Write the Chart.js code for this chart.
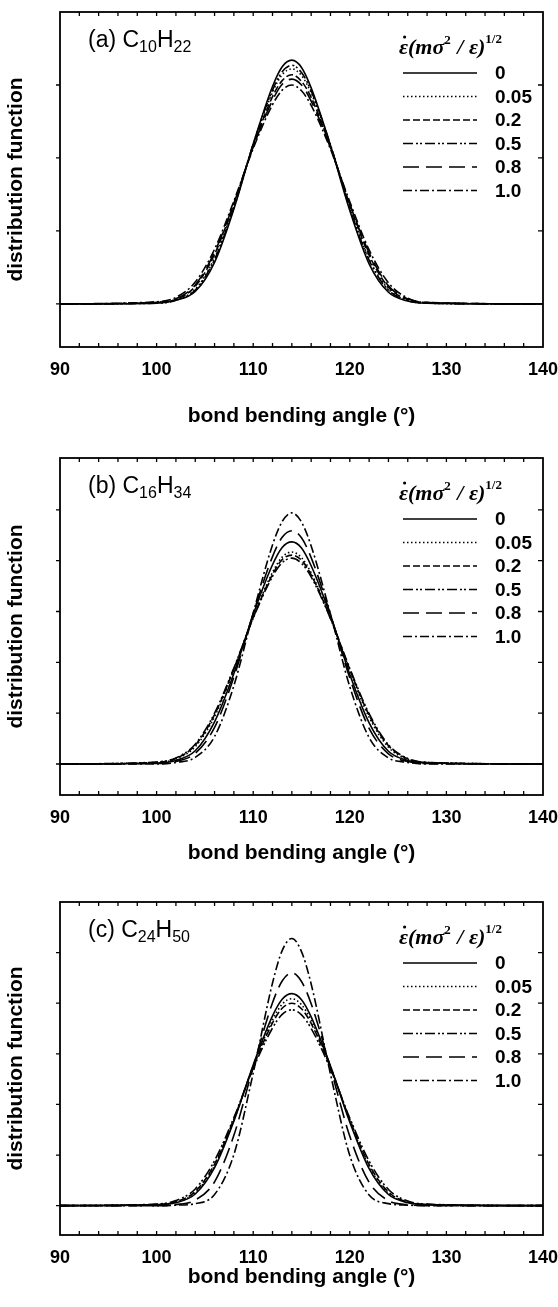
<!DOCTYPE html>
<html>
<head>
<meta charset="utf-8">
<script src="https://cdn.jsdelivr.net/npm/chart.js@4.4.0/dist/chart.umd.min.js"></script>
<style>
  body { margin: 0; background: #fff; width: 558px; height: 1307px; position: relative; overflow: hidden; }
  canvas { position: absolute; left: 0; }
</style>
</head>
<body>
<canvas id="chartA" width="558" height="432" style="top:0"></canvas>
<canvas id="chartB" width="558" height="440" style="top:432px"></canvas>
<canvas id="chartC" width="558" height="435" style="top:872px"></canvas>
<script>
// bond bending angle (deg), shared by all curves
const angles = [90, 100, 102, 104, 106, 108, 110, 112, 113, 114, 115, 116, 118, 120, 122, 124, 126, 128, 140];
const xTickLabels = [90, 100, 110, 120, 130, 140];
const rateLabels = ['0', '0.05', '0.2', '0.5', '0.8', '1.0'];

// (a) C10H22
const a0   = [0, 0.01, 0.05, 0.17, 0.57, 1.30, 2.19, 2.98, 3.25, 3.34, 3.24, 2.96, 2.17, 1.28, 0.55, 0.16, 0.04, 0.01, 0];
const a005 = [0, 0.02, 0.06, 0.20, 0.63, 1.34, 2.18, 2.90, 3.14, 3.22, 3.13, 2.89, 2.17, 1.33, 0.62, 0.20, 0.05, 0.01, 0];
const a02  = [0, 0.02, 0.06, 0.24, 0.68, 1.37, 2.16, 2.84, 3.06, 3.14, 3.05, 2.83, 2.15, 1.36, 0.67, 0.23, 0.06, 0.02, 0];
const a05  = [0, 0.01, 0.05, 0.19, 0.61, 1.32, 2.19, 2.93, 3.18, 3.27, 3.17, 2.92, 2.18, 1.31, 0.60, 0.19, 0.05, 0.01, 0];
const a08  = [0, 0.02, 0.07, 0.26, 0.71, 1.38, 2.15, 2.79, 3.01, 3.08, 3.00, 2.78, 2.14, 1.37, 0.70, 0.25, 0.07, 0.02, 0];
const a10  = [0, 0.03, 0.09, 0.30, 0.75, 1.41, 2.13, 2.73, 2.93, 3.00, 2.92, 2.72, 2.12, 1.40, 0.74, 0.29, 0.08, 0.02, 0];

// (b) C16H34
const b0   = [0, 0.02, 0.07, 0.26, 0.83, 1.78, 2.94, 3.92, 4.26, 4.37, 4.25, 3.90, 2.92, 1.76, 0.81, 0.25, 0.07, 0.02, 0];
const b005 = [0, 0.03, 0.10, 0.34, 0.93, 1.85, 2.89, 3.77, 4.07, 4.17, 4.06, 3.76, 2.88, 1.84, 0.92, 0.33, 0.09, 0.03, 0];
const b02  = [0, 0.03, 0.11, 0.37, 0.97, 1.87, 2.88, 3.73, 4.02, 4.11, 4.01, 3.72, 2.87, 1.86, 0.96, 0.36, 0.10, 0.03, 0];
const b05  = [0, 0.04, 0.12, 0.39, 1.00, 1.89, 2.87, 3.69, 3.96, 4.05, 3.95, 3.68, 2.86, 1.88, 0.99, 0.38, 0.11, 0.03, 0];
const b08  = [0, 0.01, 0.05, 0.21, 0.72, 1.71, 2.96, 4.08, 4.46, 4.59, 4.45, 4.06, 2.94, 1.69, 0.70, 0.20, 0.05, 0.01, 0];
const b10  = [0, 0.00, 0.03, 0.13, 0.54, 1.54, 2.97, 4.31, 4.77, 4.94, 4.76, 4.29, 2.95, 1.52, 0.52, 0.12, 0.03, 0.00, 0];

// (c) C24H50
const c0   = [0, 0.02, 0.06, 0.23, 0.75, 1.67, 2.78, 3.75, 4.08, 4.19, 4.07, 3.73, 2.76, 1.65, 0.73, 0.22, 0.06, 0.02, 0];
const c005 = [0, 0.02, 0.07, 0.25, 0.79, 1.69, 2.76, 3.67, 3.98, 4.09, 3.97, 3.66, 2.75, 1.68, 0.78, 0.24, 0.07, 0.02, 0];
const c02  = [0, 0.02, 0.08, 0.28, 0.82, 1.71, 2.74, 3.61, 3.90, 4.00, 3.89, 3.60, 2.73, 1.70, 0.81, 0.27, 0.07, 0.02, 0];
const c05  = [0, 0.03, 0.10, 0.33, 0.89, 1.74, 2.71, 3.51, 3.78, 3.87, 3.77, 3.50, 2.70, 1.73, 0.88, 0.32, 0.09, 0.03, 0];
const c08  = [0, 0.00, 0.02, 0.11, 0.47, 1.39, 2.74, 4.01, 4.44, 4.60, 4.43, 3.99, 2.72, 1.37, 0.46, 0.10, 0.02, 0.00, 0];
const c10  = [0, 0.00, 0.01, 0.04, 0.22, 1.01, 2.62, 4.40, 5.04, 5.28, 5.02, 4.38, 2.60, 0.99, 0.21, 0.04, 0.01, 0.00, 0];

const dashes = [[], [1.5, 2.5], [7, 3], [10, 3, 2, 2, 2, 3], [16, 7], [9, 3, 2, 3]];

const panels = [
  { id: 'chartA', letter: '(a) C', n1: '10', n2: '22', series: [a0, a005, a02, a05, a08, a10],
    yMin: -0.59, yMax: 4.0, yTicks: [0, 1, 2, 3], top: 12, xHeight: 85, titlePad: 3 },
  { id: 'chartB', letter: '(b) C', n1: '16', n2: '34', series: [b0, b005, b02, b05, b08, b10],
    yMin: -0.61, yMax: 6.02, yTicks: [0, 1, 2, 3, 4, 5], top: 26, xHeight: 77, titlePad: 6 },
  { id: 'chartC', letter: '(c) C', n1: '24', n2: '50', series: [c0, c005, c02, c05, c08, c10],
    yMin: -0.58, yMax: 6.0, yTicks: [0, 1, 2, 3, 4, 5], top: 30, xHeight: 72, titlePad: 17 }
];

// frame, inward ticks, panel label and legend
const framePlugin = {
  id: 'frame',
  afterDatasetsDraw(chart, args, opts) {
    const { ctx, chartArea: a, scales: { x, y } } = chart;
    ctx.save();
    ctx.strokeStyle = '#000';
    ctx.fillStyle = '#000';
    ctx.setLineDash([]);
    ctx.lineWidth = 1.8;
    ctx.strokeRect(a.left, a.top, a.right - a.left, a.bottom - a.top);

    ctx.lineWidth = 1.3;
    ctx.beginPath();
    for (let v = 92; v < 140; v += 2) {
      const px = x.getPixelForValue(v);
      ctx.moveTo(px, a.bottom); ctx.lineTo(px, a.bottom - 4);
      ctx.moveTo(px, a.top); ctx.lineTo(px, a.top + 4);
    }
    opts.yTicks.forEach(v => {
      const py = y.getPixelForValue(v);
      ctx.moveTo(a.left - 4, py); ctx.lineTo(a.left, py);
      ctx.moveTo(a.right, py); ctx.lineTo(a.right - 5, py);
    });
    ctx.stroke();

    // panel label with subscripts
    let lx = a.left + 28;
    const ly = a.top + 35;
    ctx.textBaseline = 'alphabetic';
    ctx.textAlign = 'left';
    const big = '23px "Liberation Sans", Arial, sans-serif';
    const sub = '16px "Liberation Sans", Arial, sans-serif';
    [[opts.letter, big, 0], [opts.n1, sub, 5], ['H', big, 0], [opts.n2, sub, 5]].forEach(([t, f, dy]) => {
      ctx.font = f;
      ctx.fillText(t, lx, ly + dy);
      lx += ctx.measureText(t).width;
    });

    // legend title: epsilon-dot (m sigma^2 / epsilon)^(1/2)
    let tx = 399;
    const ty = a.top + 42;
    const serif = 'italic bold 22px "Liberation Serif", "Times New Roman", serif';
    const serifSup = 'bold 13px "Liberation Serif", "Times New Roman", serif';
    ctx.font = serif;
    const epsW = ctx.measureText('\u03b5').width;
    ctx.beginPath();
    ctx.arc(tx + epsW * 0.62, ty - 17, 1.6, 0, Math.PI * 2);
    ctx.fill();
    [['\u03b5(m\u03c3', serif, 0], ['2', serifSup, -10], [' / \u03b5)', serif, 0], ['1/2', serifSup, -11]].forEach(([t, f, dy]) => {
      ctx.font = f;
      ctx.fillText(t, tx, ty + dy);
      tx += ctx.measureText(t).width + (dy ? 1 : 0);
    });

    // legend entries
    ctx.font = 'bold 19px "Liberation Sans", Arial, sans-serif';
    ctx.textBaseline = 'middle';
    chart.data.datasets.forEach((ds, i) => {
      const ey = a.top + 61 + i * 23.5;
      ctx.lineWidth = ds.borderWidth;
      ctx.setLineDash(ds.borderDash);
      ctx.beginPath();
      ctx.moveTo(403, ey); ctx.lineTo(477, ey);
      ctx.stroke();
      ctx.fillText(ds.label, 495, ey + 1);
    });
    ctx.restore();
  }
};

const tickFont = { family: '"Liberation Sans", Arial, sans-serif', size: 18, weight: 'bold' };
const titleFont = { family: '"Liberation Sans", Arial, sans-serif', size: 21, weight: 'bold' };

panels.forEach(p => {
  const datasets = p.series.map((vals, i) => ({
    label: rateLabels[i],
    data: angles.map((ang, j) => ({ x: ang, y: vals[j] })),
    borderColor: '#000',
    borderWidth: 1.6,
    borderDash: dashes[i],
    pointRadius: 0,
    fill: false,
    cubicInterpolationMode: 'monotone'
  }));

  new Chart(document.getElementById(p.id), {
    type: 'line',
    data: { datasets },
    options: {
      responsive: false,
      animation: false,
      devicePixelRatio: 1,
      layout: { padding: { left: 0, right: 15, top: p.top, bottom: 0 } },
      plugins: {
        legend: { display: false },
        tooltip: { enabled: false },
        frame: { yTicks: p.yTicks, letter: p.letter, n1: p.n1, n2: p.n2 }
      },
      scales: {
        x: {
          type: 'linear', min: 90, max: 140,
          afterBuildTicks: s => { s.ticks = xTickLabels.map(v => ({ value: v })); },
          ticks: { font: tickFont, color: '#000', padding: 12, maxRotation: 0, autoSkip: false },
          grid: { display: false, drawTicks: false },
          border: { display: false },
          title: { display: true, text: 'bond bending angle (\u00b0)', font: titleFont, color: '#000',
                   padding: { top: 0, bottom: p.titlePad } },
          afterFit: s => { s.height = p.xHeight; s.paddingLeft = 0; s.paddingRight = 0; }
        },
        y: {
          min: p.yMin, max: p.yMax,
          ticks: { display: false },
          grid: { display: false, drawTicks: false },
          border: { display: false },
          title: { display: true, text: 'distribution function', font: titleFont, color: '#000',
                   padding: { top: 4, bottom: 0 } },
          afterFit: s => { s.width = 60; }
        }
      }
    },
    plugins: [framePlugin]
  });
});
</script>
</body>
</html>
